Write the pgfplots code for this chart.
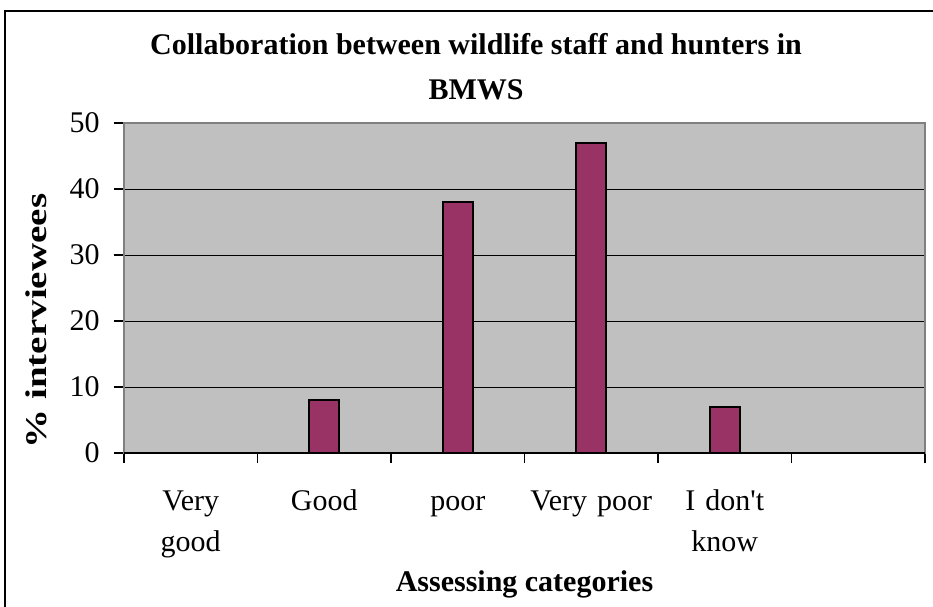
\documentclass[border=0pt]{standalone}
\usepackage{pgfplots}
\pgfplotsset{compat=1.18}
\usepackage{fontspec}
\setmainfont{Liberation Serif}
\usepackage{graphicx}
\definecolor{barcol}{HTML}{993366}
\definecolor{plotbg}{HTML}{C0C0C0}
\definecolor{plotborder}{HTML}{808080}
\begin{document}
\begin{tikzpicture}
\useasboundingbox (0,0) rectangle (466.5pt,303pt);
\draw[line width=1pt] (2.5pt,-20pt) -- (2.5pt,297.5pt) -- (490pt,297.5pt);
\begin{axis}[
  at={(62pt,76.5pt)}, anchor=south west, scale only axis,
  width=400.5pt, height=165pt,
  xmin=-0.5, xmax=5.5, ymin=0, ymax=50,
  axis background/.style={fill=plotbg},
  axis line style={draw=plotborder, line width=0.9pt},
  ytick={0,10,...,50},
  ymajorgrids, grid style={black, line width=0.5pt},
  xtick={-0.5,0.5,...,5.5},
  xticklabels={,,,,,,,},
  extra x ticks={0,1,2,3,4},
  extra x tick labels={{\strut Very\\good},{\strut Good},{\strut poor},{\strut Very poor},{\strut I don\textquotesingle t\\know}},
  extra x tick style={major tick length=0pt, grid=none,
    xticklabel style={anchor=north, inner sep=0pt, text width=110pt, align=center,
      font=\fontsize{15}{20.5}\selectfont, yshift=-14.15pt}},
  tick align=outside, tick pos=left,
  major tick length=5pt,
  tick style={black, line width=0.6pt},
  yticklabel style={font=\fontsize{15}{18}\selectfont, anchor=east, inner sep=0pt, xshift=-7pt},
  /pgf/number format/assume math mode=true,
  title={\strut Collaboration between wildlife staff and hunters in\\BMWS},
  title style={font=\bfseries\fontsize{15}{22.5}\selectfont, align=center, anchor=north, inner sep=0pt,
    at={(axis description cs:0.4395,1.268)}},
  xlabel={Assessing categories},
  xlabel style={font=\bfseries\fontsize{15}{18}\selectfont, anchor=base, inner sep=0pt,
    at={(axis description cs:0.5,-0.4212)}},
  ylabel={\scalebox{1.3}[1]{\% interviewees}},
  ylabel style={font=\bfseries\fontsize{15}{18}\selectfont, anchor=center, inner sep=0pt,
    at={(axis description cs:-0.1099,0.4)}},
]
\addplot[ybar, bar width=15pt, fill=barcol, draw=black, line width=0.9pt]
  coordinates {(0,0) (1,8) (2,38) (3,47) (4,7)};
\draw[black, line width=0.6pt] (axis cs:-0.5,0) -- (axis cs:5.5,0);
\end{axis}
\end{tikzpicture}
\end{document}
